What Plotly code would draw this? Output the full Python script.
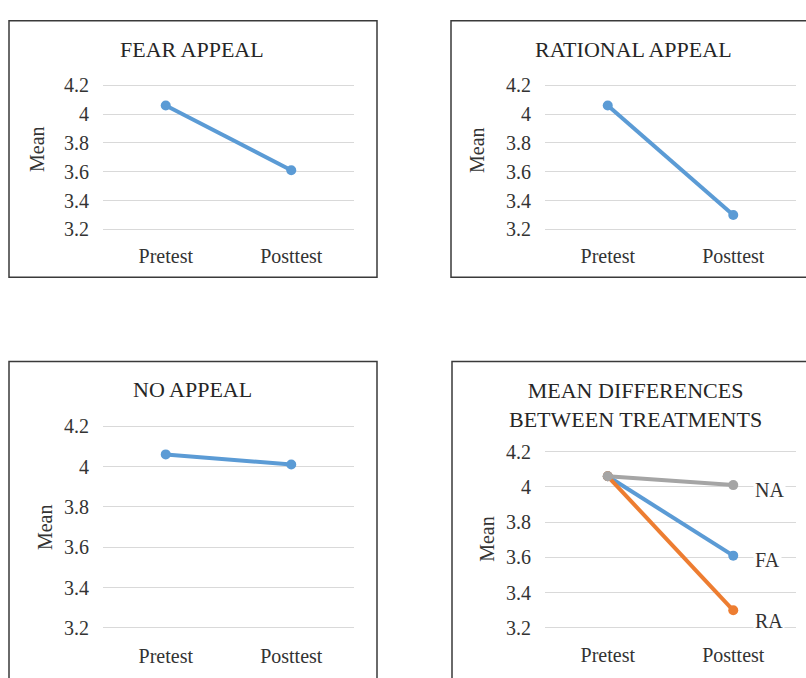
import plotly.graph_objects as go

W, H = 806, 678

categories = ["Pretest", "Posttest"]
fear_appeal = [4.06, 3.61]
rational_appeal = [4.06, 3.30]
no_appeal = [4.06, 4.01]
tick_vals = [3.2, 3.4, 3.6, 3.8, 4.0, 4.2]
tick_text = ["3.2", "3.4", "3.6", "3.8", "4", "4.2"]
panel_titles = ["FEAR APPEAL", "RATIONAL APPEAL", "NO APPEAL",
                "MEAN DIFFERENCES<br>BETWEEN TREATMENTS"]
series_labels = ["FA", "RA", "NA"]

BLUE = "#5B9BD5"
ORANGE = "#ED7D31"
GRAY = "#A5A5A5"
GRID = "#D9D9D9"
TXT = "#333333"
FONT = "Liberation Serif, Times New Roman, serif"

fig = go.Figure()

def px_x(x):
    return x / W

def px_y(y):
    return 1 - y / H

# panel geometry: (x_left, x_right, y_of_4.2, y_of_3.2)
panels = [
    (103, 354, 80, 227),
    (545, 796, 80, 227),
    (103, 354, 428, 634),
    (545, 796, 454, 634),
]
pad = 0.03

for i, (xl, xr, ytop, ybot) in enumerate(panels, start=1):
    ppu = (ybot - ytop) / 1.0
    top = ytop - pad * ppu
    bot = ybot + pad * ppu
    xa = "xaxis" if i == 1 else f"xaxis{i}"
    ya = "yaxis" if i == 1 else f"yaxis{i}"
    fig.layout[xa] = dict(
        domain=[px_x(xl), px_x(xr)], anchor=f"y{i if i > 1 else ''}",
        type="category", range=[-0.5, 1.5], showgrid=False, showline=False,
        zeroline=False, ticks="", tickfont=dict(family=FONT, size=20, color=TXT),
        ticklabelstandoff=8, fixedrange=True,
    )
    fig.layout[ya] = dict(
        domain=[px_y(bot), px_y(top)], anchor=f"x{i if i > 1 else ''}",
        range=[3.2 - pad, 4.2 + pad], tickvals=tick_vals, ticktext=tick_text,
        showgrid=True, gridcolor=GRID, gridwidth=1.2, showline=False,
        zeroline=False, ticks="", tickfont=dict(family=FONT, size=20, color=TXT),
        ticklabelstandoff=13, fixedrange=True,
    )

def add_line(vals, color, ax):
    fig.add_trace(go.Scatter(
        x=categories, y=vals, mode="lines+markers",
        line=dict(color=color, width=4), marker=dict(color=color, size=10),
        xaxis=f"x{ax if ax > 1 else ''}", yaxis=f"y{ax if ax > 1 else ''}",
        showlegend=False, cliponaxis=False,
    ))

add_line(fear_appeal, BLUE, 1)
add_line(rational_appeal, BLUE, 2)
add_line(no_appeal, BLUE, 3)
add_line(fear_appeal, BLUE, 4)
add_line(rational_appeal, ORANGE, 4)
add_line(no_appeal, GRAY, 4)

# titles
title_pos = [(192, 43), (633, 43), (192, 391), (635, 406)]
for (tx, ty), t in zip(title_pos, panel_titles):
    fig.add_annotation(x=px_x(tx), y=px_y(ty), xref="paper", yref="paper",
                       text=t, showarrow=False, xanchor="center", yanchor="middle",
                       font=dict(family=FONT, size=22, color="#262626"))

# y-axis titles
mean_pos = [(37, 145), (477, 146), (45, 531), (487, 543)]
for mx, my in mean_pos:
    fig.add_annotation(x=px_x(mx), y=px_y(my), xref="paper", yref="paper",
                       text="Mean", textangle=-90, showarrow=False,
                       xanchor="center", yanchor="middle",
                       font=dict(family=FONT, size=20, color=TXT))

# series labels in panel 4
label_shift = {"FA": -4, "RA": -11, "NA": -5}
for lab, vals in zip(series_labels, [fear_appeal, rational_appeal, no_appeal]):
    fig.add_annotation(x="Posttest", y=vals[1], xref="x4", yref="y4",
                       text=lab, showarrow=False, xanchor="left", yanchor="middle",
                       xshift=20, yshift=label_shift[lab], bgcolor="white",
                       font=dict(family=FONT, size=20, color=TXT))

# panel borders
BORDER = "#3a3a3a"
boxes = [(9, 377, 14, 276), (451, 812, 14, 276), (9, 377, 362, 690), (452, 812, 362, 690)]
for x0, x1, y0, y1 in boxes:
    fig.add_shape(type="rect", xref="paper", yref="paper",
                  x0=px_x(x0), x1=px_x(x1), y0=px_y(y1), y1=px_y(y0),
                  line=dict(color=BORDER, width=1.5), layer="below")

fig.update_layout(
    width=W, height=H, margin=dict(l=0, r=0, t=0, b=0),
    paper_bgcolor="white", plot_bgcolor="white", showlegend=False,
)

css_fix = (
    "document.documentElement.style.margin='0';"
    "document.documentElement.style.padding='0';"
    "document.body.style.margin='0';document.body.style.padding='0';"
    "document.body.style.overflow='hidden';"
    "var d=document.getElementById('{plot_id}');"
    "if(d){d.style.position='absolute';d.style.left='0px';d.style.top='0px';}"
)

fig.write_html("out.html", config={"displayModeBar": False}, post_script=css_fix)
